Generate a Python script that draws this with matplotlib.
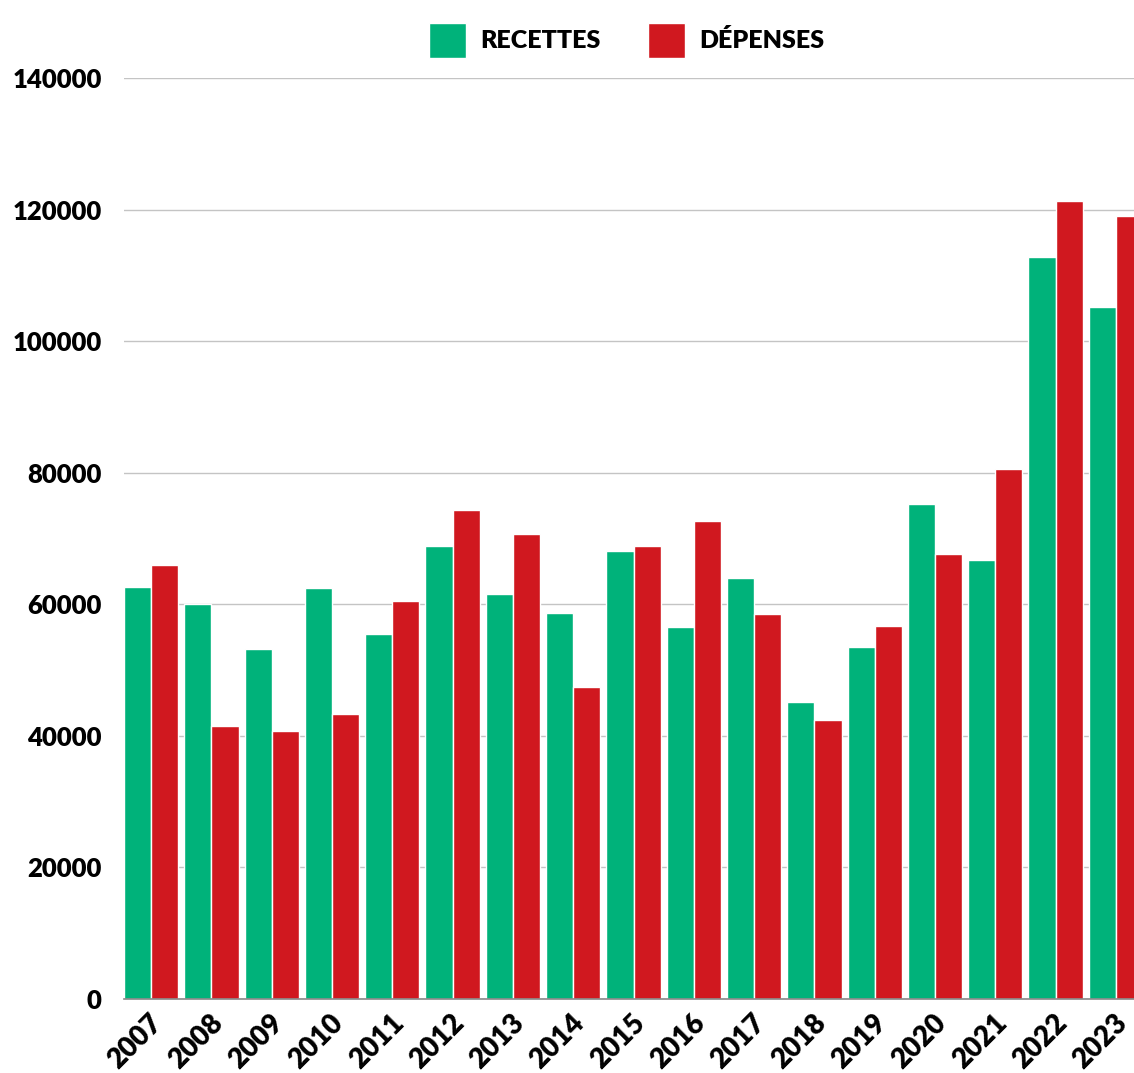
import numpy as np
import matplotlib
matplotlib.use('Agg')
import matplotlib.pyplot as plt
import matplotlib.transforms as mtransforms

years = [str(y) for y in range(2007, 2024)]
recettes = [62600, 60000, 53200, 62500, 55500, 68900, 61600, 58700, 68100,
            56600, 64000, 45200, 53500, 75200, 66700, 112800, 105200]
depenses = [66000, 41500, 40800, 43300, 60500, 74300, 70700, 47400, 68900,
            72600, 58500, 42400, 56700, 67600, 80500, 121300, 119000]

GREEN = "#00b27a"
RED = "#d0181f"

plt.rcParams.update({
    "font.family": ["Lato", "DejaVu Sans"],
    "font.weight": "heavy",
})

fig = plt.figure(figsize=(11.34, 10.73), dpi=100)
ax = fig.add_axes([124 / 1134, 74 / 1073, 1 - 124 / 1134, (999 - 78) / 1073])

x = np.arange(len(years))
w = 0.45
ax.bar(x - w / 2, recettes, w, color=GREEN, edgecolor="white", lw=1.0,
       label="RECETTES", zorder=3)
ax.bar(x + w / 2, depenses, w, color=RED, edgecolor="white", lw=1.0,
       label="DÉPENSES", zorder=3)

ax.set_xlim(-0.45, 16.30)
ax.set_ylim(0, 140000)
ax.set_yticks(np.arange(0, 140001, 20000))
ax.yaxis.grid(True, color="#c4c4c4", lw=1.0, zorder=0)
ax.set_axisbelow(True)
for s in ["top", "right", "left"]:
    ax.spines[s].set_visible(False)
ax.spines["bottom"].set_color("#888888")
ax.spines["bottom"].set_linewidth(1.2)
ax.spines["bottom"].set_zorder(4)

ax.tick_params(axis="y", length=0, pad=16, labelsize=18.5)
ax.tick_params(axis="x", length=0, pad=8, labelsize=20)
ax.set_xticks(x)
ax.set_xticklabels(years, rotation=45, ha="right", rotation_mode="anchor")
offset = mtransforms.ScaledTranslation(-2 / 100, 0, fig.dpi_scale_trans)
for lab in ax.get_xticklabels():
    lab.set_transform(lab.get_transform() + offset)
for lab in ax.get_yticklabels() + ax.get_xticklabels():
    lab.set_fontweight("heavy")

fig.legend(loc="upper center", bbox_to_anchor=(0.553, 1.0), ncol=2,
           frameon=False, handlelength=1.45, handleheight=1.8,
           handletextpad=0.6, columnspacing=1.9,
           prop={"weight": "heavy", "size": 18})

fig.savefig("out.png", dpi=100)
